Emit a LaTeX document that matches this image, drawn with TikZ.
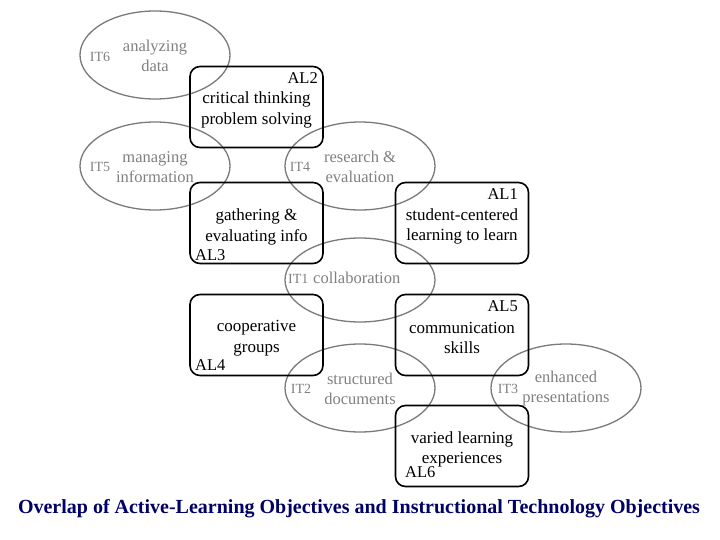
\documentclass[tikz,border=0pt]{standalone}
\usepackage{fontspec}
\setmainfont{Liberation Serif}
\usetikzlibrary{shapes.geometric}
\definecolor{ellgray}{HTML}{7A7A7A}
\definecolor{txtgray}{HTML}{808080}
\definecolor{titleblue}{HTML}{000066}
\begin{document}
\begin{tikzpicture}[x=1pt,y=-1pt,
  ell/.style={draw=ellgray,line width=1.3pt,ellipse,minimum width=150pt,minimum height=88pt,inner sep=0pt},
  box/.style={draw=black,line width=1.6pt,rounded corners=10pt,minimum width=133pt,minimum height=81pt,inner sep=0pt},
  btxt/.style={align=center,inner sep=0pt,font=\fontsize{17}{20.5}\selectfont},
  itxt/.style={text=txtgray,align=center,font=\fontsize{16.5}{20}\selectfont,inner sep=0pt},
  itlab/.style={text=txtgray,font=\fontsize{14}{16}\selectfont,inner sep=0pt},
  allab/.style={font=\fontsize{16.5}{18}\selectfont,inner sep=0pt}]
\useasboundingbox (0,0) rectangle (720,540);
% ellipses
\node[ell] (it6) at (155,55) {};
\node[ell] (it5) at (155,166) {};
\node[ell] (it4) at (360,166) {};
\node[ell,minimum height=84pt] (it1) at (360,280) {};
\node[ell] (it2) at (360,388) {};
\node[ell] (it3) at (566,388) {};
% ellipse texts
\node[itxt] (t6) at (155,56) {analyzing\\data};
\node[itlab] (l6) at (100,57) {IT6};
\node[itxt] (t5) at (155,167) {managing\\information};
\node[itlab] (l5) at (100,167) {IT5};
\node[itxt] (t4) at (360,167) {research \&\\evaluation};
\node[itlab] (l4) at (300,167) {IT4};
\node[itlab,anchor=base west] (l1) at (288,283) {IT1};
\node[itxt,anchor=base west] (t1) at (313,283) {collaboration};
\node[itxt] (t2) at (360,389) {structured\\documents};
\node[itlab] (l2) at (301,389) {IT2};
\node[itxt] (t3) at (566,389) {enhanced\\presentations};
\node[itlab] (l3) at (508,389) {IT3};
% boxes
\node[box] (al2) at (256.5,107) {};
\node[btxt] (b2) at (256.5,110) {critical thinking\\problem solving};
\node[allab,anchor=base east] (a2) at (318,84) {AL2};
\node[box] (al3) at (256.5,223) {};
\node[btxt] (b3) at (256.5,227) {gathering \&\\evaluating info};
\node[allab,anchor=base west] (a3) at (195,260) {AL3};
\node[box] (al1) at (462,223) {};
\node[btxt] (b1) at (462,226.5) {student-centered\\learning to learn};
\node[allab,anchor=base east] (a1) at (518,200) {AL1};
\node[box] (al4) at (256.5,335) {};
\node[btxt] (b4) at (256.5,338) {cooperative\\groups};
\node[allab,anchor=base west] (a4) at (195,370) {AL4};
\node[box] (al5) at (462,335) {};
\node[btxt] (b5) at (462,338) {communication\\skills};
\node[allab,anchor=base east] (a5) at (518,311) {AL5};
\node[box] (al6) at (462,446) {};
\node[btxt] (b6) at (462,449.5) {varied learning\\experiences};
\node[allab,anchor=base west] (a6) at (405,477) {AL6};
% title
\node[text=titleblue,font=\bfseries\fontsize{20}{22}\selectfont,inner sep=0pt] (title) at (359,509) {Overlap of Active-Learning Objectives and Instructional Technology Objectives};
\end{tikzpicture}
\end{document}
